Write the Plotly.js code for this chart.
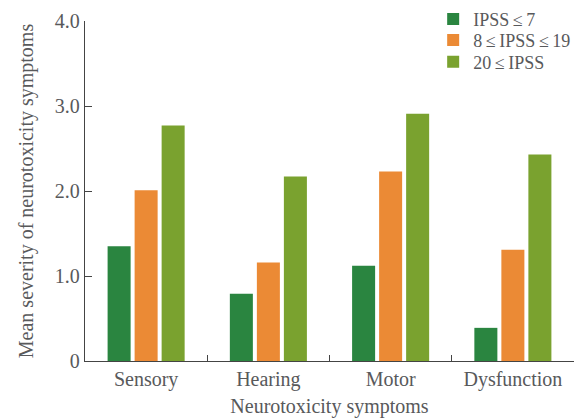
<!DOCTYPE html>
<html>
<head>
<meta charset="utf-8">
<script src="https://cdn.plot.ly/plotly-3.0.1.min.js"></script>
<style>
html,body{margin:0;padding:0;background:#fff;}
#chart{width:579px;height:419px;}
</style>
</head>
<body>
<div id="chart"></div>
<script>
var categories = ["Sensory", "Hearing", "Motor", "Dysfunction"];
var seriesNames = ["IPSS\u2009\u2264\u20097", "8\u2009\u2264\u2009IPSS\u2009\u2264\u200919", "20\u2009\u2264\u2009IPSS"];
var ipssLow = [1.35, 0.79, 1.12, 0.39];
var ipssMid = [2.01, 1.16, 2.23, 1.31];
var ipssHigh = [2.77, 2.17, 2.91, 2.43];
var yTickVals = [0, 1, 2, 3, 4];
var yTickText = ["0", "1.0", "2.0", "3.0", "4.0"];
var colors = ["#2a8540", "#eb8a35", "#7aa22f"];

var font = "Liberation Serif, Times New Roman, serif";
var textColor = "#58595b";
var seriesVals = [ipssLow, ipssMid, ipssHigh];
var legendIds = ["legend", "legend2", "legend3"];
var legendY = [1.005, 0.943, 0.879];

var data = seriesVals.map(function(v, i){
  return {
    type: "bar",
    name: seriesNames[i],
    x: categories,
    y: v,
    legend: legendIds[i],
    marker: {color: colors[i], line: {width: 0}},
    hoverinfo: "x+y+name"
  };
});

var layout = {
  width: 579,
  height: 419,
  margin: {l: 85, r: 5, t: 21, b: 58, autoexpand: false},
  paper_bgcolor: "#fff",
  plot_bgcolor: "#fff",
  font: {family: font, size: 20, color: textColor},
  barmode: "group",
  bargap: 0.337,
  bargroupgap: 0.148,
  showlegend: true,
  xaxis: {
    type: "category",
    automargin: false,
    showline: true, linecolor: "#444", linewidth: 1.3,
    ticks: "inside", ticklen: 6, tickcolor: "#444", tickwidth: 1,
    tickson: "boundaries",
    showgrid: false, zeroline: false,
    tickfont: {family: font, size: 20, color: textColor},
    title: {text: "Neurotoxicity symptoms", font: {family: font, size: 20, color: textColor}, standoff: 8},
    fixedrange: true
  },
  yaxis: {
    range: [0, 4],
    automargin: false,
    tickvals: yTickVals, ticktext: yTickText,
    showline: true, linecolor: "#444", linewidth: 1.3,
    ticks: "inside", ticklen: 7, tickcolor: "#444", tickwidth: 1,
    showgrid: false, zeroline: false,
    tickfont: {family: font, size: 20, color: textColor},
    title: {text: "Mean severity of neurotoxicity symptoms", font: {family: font, size: 20, color: textColor}, standoff: 15},
    fixedrange: true
  }
};
legendIds.forEach(function(id, i){
  layout[id] = {
    x: 0.712, y: legendY[i], xanchor: "left", yanchor: "middle",
    font: {family: font, size: 18, color: textColor},
    bgcolor: "rgba(0,0,0,0)",
    itemwidth: 30
  };
});

Plotly.newPlot("chart", data, layout, {displayModeBar: false, staticPlot: true});
</script>
</body>
</html>
